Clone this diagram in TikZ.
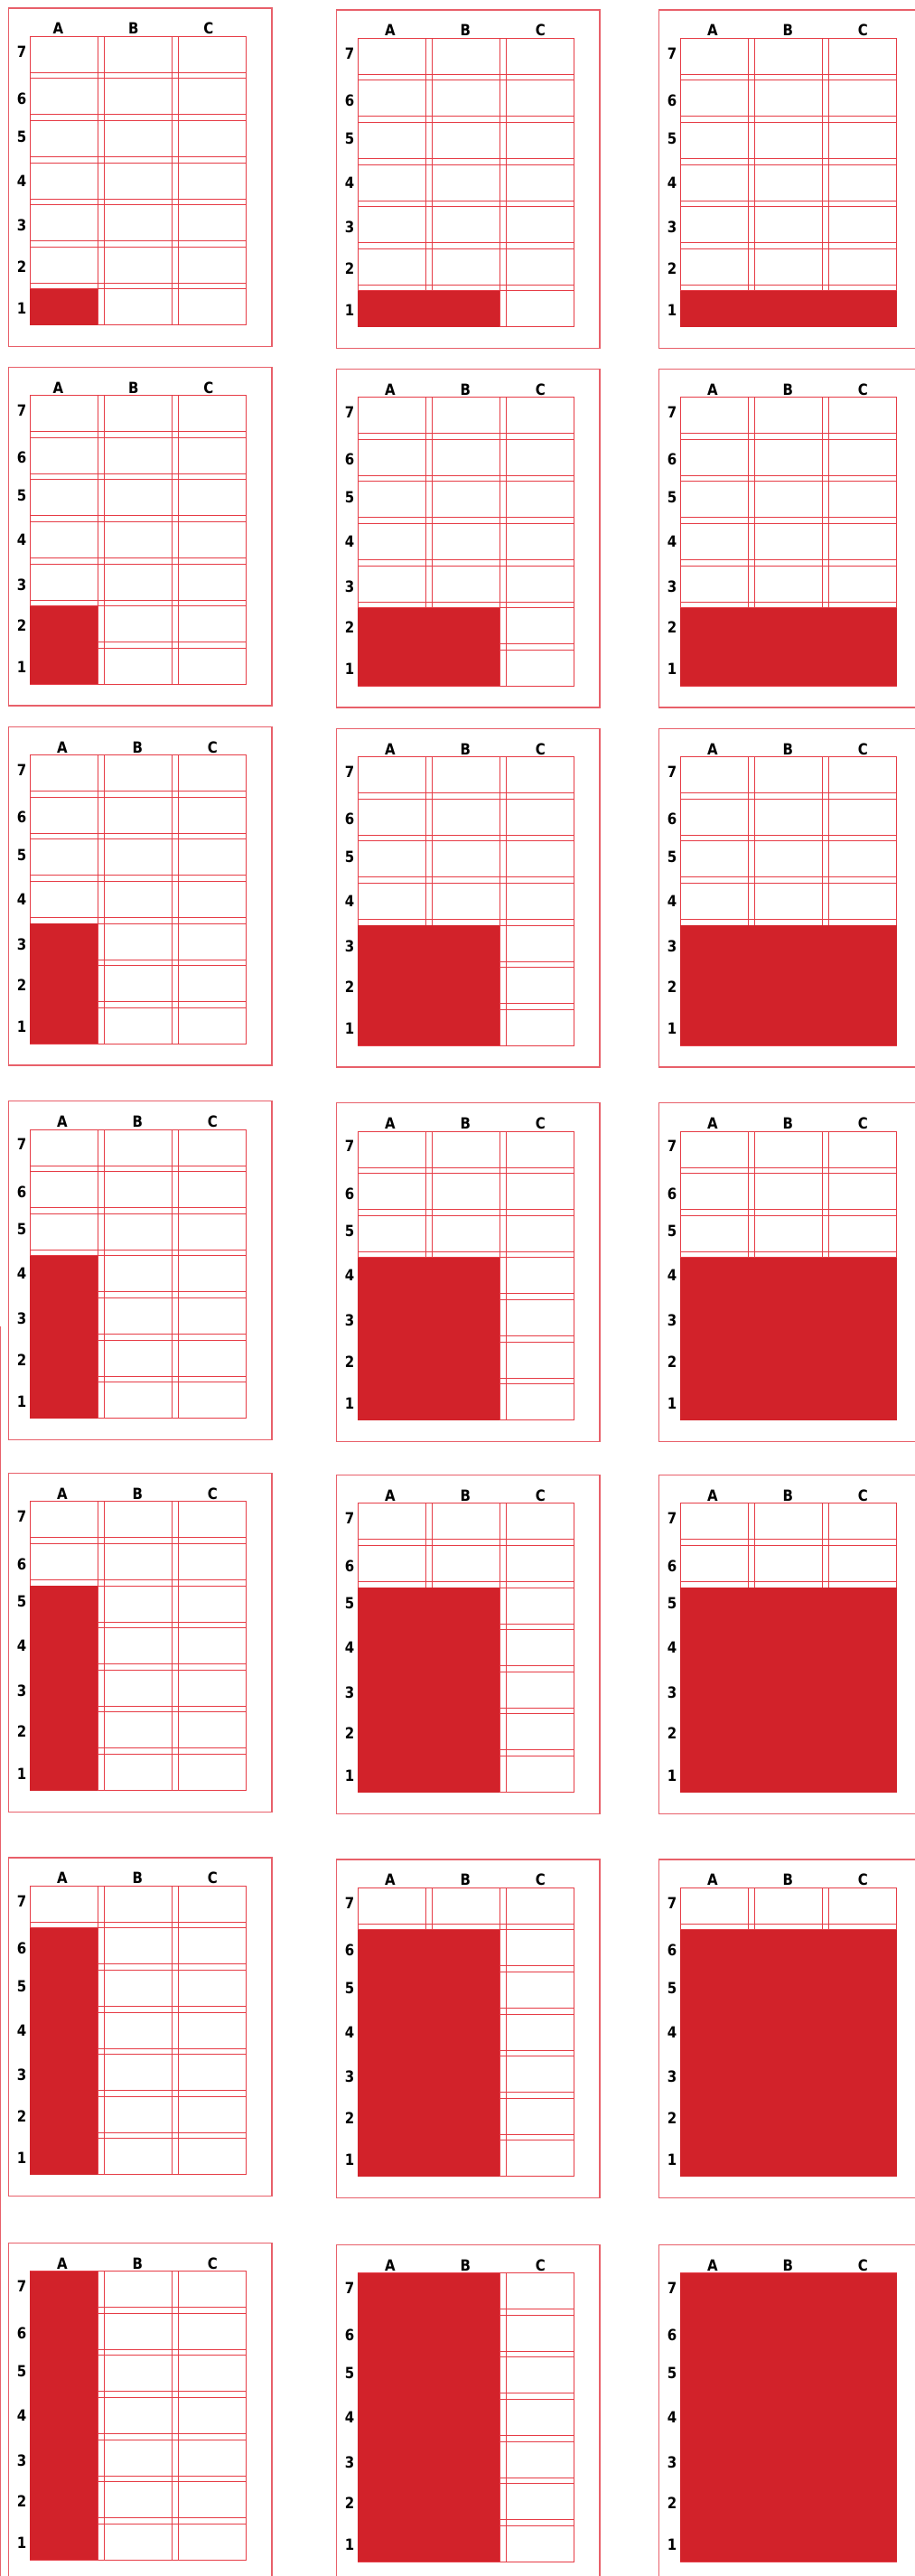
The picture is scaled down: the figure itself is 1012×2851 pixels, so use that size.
\documentclass[tikz,border=0pt]{standalone}
\usepackage{fontspec}
\usepackage{tikz}
\newfontfamily\labelfont{DejaVu Sans}[FakeStretch=0.88]
\definecolor{gridred}{RGB}{230,60,70}
\definecolor{framered}{RGB}{232,96,106}
\definecolor{blockred}{RGB}{210,34,42}

\begin{document}
\begin{tikzpicture}[
x=1pt, y=-1pt,
font=\labelfont\bfseries\fontsize{17}{17}\selectfont,
panel/.style={draw=framered, line width=1.2pt},
gridline/.style={draw=gridred, line width=0.9pt},
block/.style={fill=blockred},
collabel/.style={anchor=base, inner sep=0pt},
rowlabel/.style={anchor=east, inner sep=0pt}
]
\useasboundingbox (0,0) rectangle (1012,2851);
\draw[panel] (0.5,1468) -- (0.5,2851);

\foreach \r/\fy in {1/9, 2/406.4, 3/804.4, 4/1218.8, 5/1630.7, 6/2056, 7/2482.4} {
  \foreach \c/\fx/\dy in {1/9.5/0, 2/372.5/2, 3/729.5/2} {
    \pgfmathsetmacro\px{\fx}
    \pgfmathsetmacro\py{\fy+\dy}
    \pgfmathsetmacro\gx{\px+23.5}
    \pgfmathsetmacro\gy{\py+31.2}
    \pgfmathsetmacro\lx{(\c==1 && \r<3) ? -4.5 : 0}
    \draw[panel] (\px,\py) rectangle ++(291.5,374.5);
    \foreach \k in {0,1,2} {
      \draw[gridline] (\gx+\k*82.3,\gy) -- ++(0,319.6);
      \draw[gridline] (\gx+\k*82.3+75,\gy) -- ++(0,319.6);
    }
    \foreach \k in {0,...,6} {
      \draw[gridline] (\gx,\gy+\k*46.6) -- ++(239.6,0);
      \draw[gridline] (\gx,\gy+\k*46.6+40) -- ++(239.6,0);
    }
    \fill[block] (\gx,\gy+319.6) rectangle (\gx+\c*82.3-7.3,\gy+7*46.6-\r*46.6);
    \foreach \L/\k in {A/0, B/1, C/2}
      \node[collabel] (col\L-\r-\c) at (\gx+36+\k*83.2+\lx,\gy-2.5) {\L};
    \foreach \n/\ny in {7/16.7, 6/69, 5/110.8, 4/159.7, 3/209.5, 2/254.7, 1/301}
      \node[rowlabel] (row\n-\r-\c) at (\gx-3.5,\gy+\ny) {\n};
  }
}
\end{tikzpicture}
\end{document}
